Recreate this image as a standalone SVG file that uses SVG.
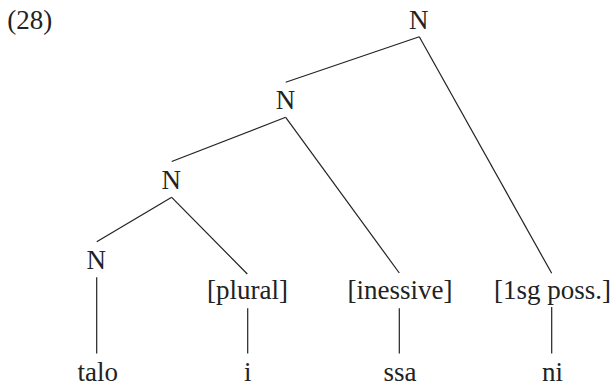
<svg xmlns="http://www.w3.org/2000/svg" width="614" height="386" viewBox="0 0 614 386">
<style>
text{font-family:"Liberation Serif","Times New Roman",serif;font-size:27px;fill:#222;text-anchor:middle}
.c line{stroke:#222;stroke-width:1.2;fill:none}
</style>
<rect width="614" height="386" fill="#fff"/>
<text x="7.3" y="28.5" style="text-anchor:start">(28)</text>
<g class="c" id="connectors">
<line x1="419.3" y1="36.7" x2="285.7" y2="82.3"/>
<line x1="419.3" y1="36.7" x2="551.7" y2="273.3"/>
<line x1="285.7" y1="117.3" x2="171.7" y2="161.5"/>
<line x1="285.7" y1="117.3" x2="399.3" y2="273"/>
<line x1="171.7" y1="197.3" x2="96.7" y2="241.7"/>
<line x1="171.7" y1="197.3" x2="247.3" y2="274"/>
<line x1="96.7" y1="277.3" x2="96.7" y2="353.5"/>
<line x1="247.7" y1="308.3" x2="247.7" y2="353.5"/>
<line x1="399.3" y1="308.3" x2="399.3" y2="353.5"/>
<line x1="551.7" y1="307" x2="551.7" y2="353.5"/>
</g>
<g id="n1"><text x="418.8" y="29.3">N</text></g>
<g id="n2"><text x="285.5" y="109.3">N</text></g>
<g id="n3"><text x="171.3" y="189.3">N</text></g>
<g id="n4"><text x="96.3" y="269.3">N</text></g>
<g id="plural"><text x="247.5" y="299">[plural]</text></g>
<g id="inessive"><text x="400" y="299">[inessive]</text></g>
<g id="poss"><text x="552.5" y="299">[1sg poss.]</text></g>
<g id="talo"><text x="97.7" y="381">talo</text></g>
<g id="i"><text x="247.7" y="381">i</text></g>
<g id="ssa"><text x="400" y="381">ssa</text></g>
<g id="ni"><text x="552.5" y="381">ni</text></g>
</svg>
